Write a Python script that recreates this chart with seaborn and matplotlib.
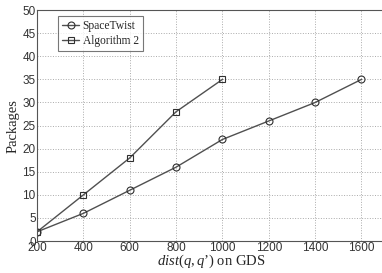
import matplotlib
matplotlib.use("Agg")
import matplotlib.pyplot as plt
import seaborn as sns
import pandas as pd

x_space = [200, 400, 600, 800, 1000, 1200, 1400, 1600]
y_space = [2, 6, 11, 16, 22, 26, 30, 35]
x_alg = [200, 400, 600, 800, 1000]
y_alg = [2, 10, 18, 28, 35]
xticks = [200, 400, 600, 800, 1000, 1200, 1400, 1600]
yticks = [0, 5, 10, 15, 20, 25, 30, 35, 40, 45, 50]

sns.set_theme(style="white")
plt.rcParams['font.family'] = ['Liberation Sans', 'DejaVu Sans']
plt.rcParams['mathtext.fontset'] = 'custom'
plt.rcParams['mathtext.rm'] = 'Liberation Serif'
plt.rcParams['mathtext.it'] = 'Liberation Serif:italic'

df = pd.concat([
    pd.DataFrame({"x": x_space, "y": y_space, "s": "SpaceTwist"}),
    pd.DataFrame({"x": x_alg, "y": y_alg, "s": "Algorithm 2"}),
])

fig = plt.figure(figsize=(3.82, 2.73), dpi=100)
ax = fig.add_axes([0.097, 0.117, 0.91, 0.846])
sns.lineplot(data=df, x="x", y="y", hue="s", style="s",
             palette={"SpaceTwist": "#505050", "Algorithm 2": "#505050"},
             markers={"SpaceTwist": "o", "Algorithm 2": "s"},
             dashes=False, ax=ax, linewidth=1.0, markersize=5,
             markerfacecolor="none", markeredgecolor="#303030", markeredgewidth=0.8)
ax.set_xlim(200, 1700)
ax.set_ylim(0, 50)
ax.set_xticks(xticks)
ax.set_yticks(yticks)
ax.tick_params(axis="both", labelsize=8.5, colors="#333333", length=2, direction="in")
ax.tick_params(axis="x", pad=1)
ax.tick_params(axis="y", pad=1)
ax.grid(True, linestyle=":", color="#aaaaaa", linewidth=0.7)
for sp in ax.spines.values():
    sp.set_color("#555555")
    sp.set_linewidth(0.8)
ax.set_xlabel("$\\mathit{dist(q,q\u2019)}$ on GDS", fontsize=10.5, family="Liberation Serif", labelpad=-1)
ax.set_ylabel("Packages", fontsize=10.5, family="Liberation Serif", labelpad=2)
leg = ax.legend(loc="upper left", bbox_to_anchor=(0.06, 0.975), prop={"family": "Liberation Serif", "size": 8.3},
                frameon=True, fancybox=False, edgecolor="#555555", handlelength=1.5,
                handletextpad=0.3, borderpad=0.35, labelspacing=0.25, borderaxespad=0)
leg.get_frame().set_linewidth(0.8)
fig.savefig("out.png", dpi=100)
